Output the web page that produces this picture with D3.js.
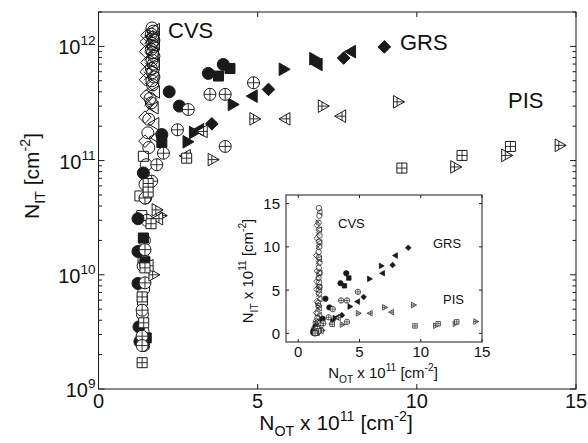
<!DOCTYPE html>
<html><head><meta charset="utf-8">
<script src="https://cdn.jsdelivr.net/npm/d3@7"></script>
<style>body{margin:0;background:#fff}svg{display:block}text{font-family:"Liberation Sans",Arial,sans-serif;fill:#111}</style>
</head><body><svg id="c" width="588" height="443"></svg>
<script>
// ---- data: x = N_OT (1e11 cm^-2), y = N_IT (1e11 cm^-2) ----
const cvsCircleX = [1.68,1.72,1.66,1.70,1.74,1.68,1.72,1.66,1.70,1.74,1.68,1.72,1.66,1.70,1.74,1.68,1.70,1.62,1.66,1.58,1.55,1.58,1.50,1.46,1.48,1.52,1.44,1.40,1.42,1.38,1.40,1.42];
const cvsCircleY = [14.5,13.6,12.8,12.0,11.3,10.6,10.0,9.4,8.8,8.2,7.6,7.0,6.4,5.9,5.4,5.0,4.6,3.5,3.2,2.3,1.75,1.3,0.92,0.62,0.47,0.30,0.20,0.12,0.075,0.045,0.032,0.024];
const cvsDiamondX = [1.52,1.50,1.48,1.52,1.50,1.48,1.50,1.46,1.46];
const cvsDiamondY = [12.5,11.0,9.0,7.2,6.0,5.1,3.7,2.4,1.48];
const cvsTimesX = [1.60,1.58,1.62,1.58,1.60,1.56,1.60,1.58,1.62];
const cvsTimesY = [12.9,11.5,10.0,8.2,6.6,5.5,4.4,3.3,2.9];
const cvsTriLeftX = [1.80,1.78,1.80,1.76,1.80,1.78,1.80,1.76,1.78,1.82];
const cvsTriLeftY = [14.0,12.0,10.5,8.6,7.0,5.3,4.0,2.9,2.1,1.6];
const cvsSquareX = [1.41,1.30,1.36,1.40,1.38,1.42];
const cvsSquareY = [1.09,0.49,0.33,0.14,0.06,0.025];

const grsCircleX = [3.92,3.45,2.22,2.54,1.99,1.41,1.24,1.24,1.24,1.27,1.30];
const grsCircleY = [6.95,5.8,4.0,3.0,1.69,0.78,0.31,0.16,0.084,0.035,0.026];
const grsSquareX = [4.13,3.77,1.99,1.41,1.46,1.50];
const grsSquareY = [6.4,5.5,1.44,0.21,0.13,0.028];
const grsTriRightX = [6.75,5.79,4.19,2.97,2.77];
const grsTriRightY = [7.8,6.3,3.1,1.76,1.46];
const grsTriLeftX = [7.96,6.91,4.87,3.19];
const grsTriLeftY = [9.0,6.95,3.67,1.86];
const grsDiamondX = [8.98,7.70,5.34,3.56];
const grsDiamondY = [9.9,7.9,4.2,2.1];
const grsCirclePlusX = [4.87,3.98,3.50,2.82,2.48,3.98,2.04,1.83,1.67,1.46,1.46,1.46,1.37,1.37,1.37];
const grsCirclePlusY = [4.8,3.8,3.8,2.8,1.86,1.33,1.16,0.92,0.66,0.47,0.166,0.085,0.049,0.029,0.024];

const pisTriRightX = [14.46,12.78,11.18,9.38,7.02,4.87,3.56,1.93,1.80,1.70];
const pisTriRightY = [1.36,1.11,0.88,3.27,3.0,2.32,1.02,0.33,0.37,0.10];
const pisTriLeftX = [7.65,5.90,3.30,2.77,1.90,1.60];
const pisTriLeftY = [2.45,2.32,1.8,1.1,0.31,0.12];
const pisSquareX = [12.94,11.42,9.53,2.77,1.56,1.56,1.65,1.46,1.37,1.42,1.37];
const pisSquareY = [1.33,1.11,0.86,1.05,0.63,0.53,0.28,0.115,0.064,0.038,0.017];

const xTicks = [0,5,10,15];
const yTickExps = [9,10,11,12];
const insetYTicks = [0,5,10,15];
const groupLabels = ["CVS","GRS","PIS"];

// series: [shape, style, xs, ys]
const series = [
  ["circle","open",cvsCircleX,cvsCircleY],
  ["diamond","open",cvsDiamondX,cvsDiamondY],
  ["times","open",cvsTimesX,cvsTimesY],
  ["triLeft","open",cvsTriLeftX,cvsTriLeftY],
  ["square","open",cvsSquareX,cvsSquareY],
  ["circle","filled",grsCircleX,grsCircleY],
  ["square","filled",grsSquareX,grsSquareY],
  ["triRight","filled",grsTriRightX,grsTriRightY],
  ["triLeft","filled",grsTriLeftX,grsTriLeftY],
  ["diamond","filled",grsDiamondX,grsDiamondY],
  ["circle","cross",grsCirclePlusX,grsCirclePlusY],
  ["triRight","cross",pisTriRightX,pisTriRightY],
  ["triLeft","cross",pisTriLeftX,pisTriLeftY],
  ["square","cross",pisSquareX,pisSquareY]
];

function shapePath(shape, k){
  const r=6*k, sq=5*k, dm=6.3*k, w=11*k, h=6.3*k, tx=4.3*k;
  switch(shape){
    case "circle": return `M${-r},0A${r},${r} 0 1,0 ${r},0A${r},${r} 0 1,0 ${-r},0Z`;
    case "square": return `M${-sq},${-sq}H${sq}V${sq}H${-sq}Z`;
    case "diamond": return `M0,${-dm}L${dm},0L0,${dm}L${-dm},0Z`;
    case "triRight": return `M${-w/3},${-h}L${2*w/3},0L${-w/3},${h}Z`;
    case "triLeft": return `M${w/3},${-h}L${-2*w/3},0L${w/3},${h}Z`;
    case "times": return `M${-tx},${-tx}L${tx},${tx}M${-tx},${tx}L${tx},${-tx}`;
  }
}
function crossPath(shape,k){
  const r=6*k, sq=5*k, w=11*k, h=6.3*k;
  switch(shape){
    case "circle": return `M${-r},0H${r}M0,${-r}V${r}`;
    case "square": return `M${-sq},0H${sq}M0,${-sq}V${sq}`;
    case "triRight": return `M${-w/3},0H${2*w/3}M0,${-2*h/3}V${2*h/3}`;
    case "triLeft": return `M${w/3},0H${-2*w/3}M0,${-2*h/3}V${2*h/3}`;
  }
  return "";
}

const svg = d3.select("#c");
const ink = "#1a1a1a";

function rich(sel, segs, size){
  let cur = 0;
  segs.forEach(([t,type])=>{
    let target = type==="sub" ? 0.3*size : type==="sup" ? -0.45*size : 0;
    sel.append("tspan").attr("dy", target-cur).attr("font-size", type==="n"?size:size*0.68).text(t);
    cur = target;
  });
}

function drawMarkers(g, xs, ysc, k, toY){
  series.forEach(([shape,style,X,Y])=>{
    X.forEach((xv,i)=>{
      const m = g.append("g").attr("transform",`translate(${xs(xv)},${ysc(toY(Y[i]))})`);
      const fill = style==="filled" ? ink : (style==="cross" ? "#fff" : "none");
      m.append("path").attr("d",shapePath(shape,k)).attr("fill",shape==="times"?"none":fill)
        .attr("stroke",ink).attr("stroke-width",Math.max(0.7,1.0*k));
      if(style==="cross") m.append("path").attr("d",crossPath(shape,k)).attr("fill","none").attr("stroke",ink).attr("stroke-width",Math.max(0.6,0.9*k));
    });
  });
}

// ---------- main plot ----------
const L=98.5,R=576,T=12,B=389;
const x = d3.scaleLinear().domain([0,15]).range([L,R]);
const y = d3.scaleLog().domain([1e9,2e12]).range([B,T]);
const main = svg.append("g");

drawMarkers(main.append("g"), x, y, 1, v=>v*1e11);

// frame
main.append("rect").attr("x",L).attr("y",T).attr("width",R-L).attr("height",B-T).attr("fill","none").attr("stroke",ink).attr("stroke-width",1);
// x ticks
xTicks.forEach(t=>{
  main.append("line").attr("x1",x(t)).attr("x2",x(t)).attr("y1",B).attr("y2",B-5).attr("stroke",ink);
  main.append("line").attr("x1",x(t)).attr("x2",x(t)).attr("y1",T).attr("y2",T+5).attr("stroke",ink);
  main.append("text").attr("x",x(t)).attr("y",B+19).attr("text-anchor","middle").attr("font-size",20).text(t);
});
// y ticks (log)
yTickExps.forEach(e=>{
  const v=Math.pow(10,e);
  main.append("line").attr("x1",L).attr("x2",L+6).attr("y1",y(v)).attr("y2",y(v)).attr("stroke",ink);
  main.append("line").attr("x1",R).attr("x2",R-6).attr("y1",y(v)).attr("y2",y(v)).attr("stroke",ink);
  const tx = main.append("text").attr("x",L-3).attr("y",y(v)+8).attr("text-anchor","end").attr("font-size",20);
  rich(tx,[["10","n"],[String(e),"sup"]],20);
  for(let m=2;m<=9;m++){
    const mv=m*v; if(mv>2e12) break;
    main.append("line").attr("x1",L).attr("x2",L+3.5).attr("y1",y(mv)).attr("y2",y(mv)).attr("stroke",ink);
    main.append("line").attr("x1",R).attr("x2",R-3.5).attr("y1",y(mv)).attr("y2",y(mv)).attr("stroke",ink);
  }
});
// axis labels
const xl = main.append("text").attr("x",336).attr("y",430).attr("text-anchor","middle").attr("font-size",21);
rich(xl,[["N","n"],["OT","sub"],[" x 10","n"],["11","sup"],["  [cm","n"],["-2","sup"],["]","n"]],21);
const yl = main.append("text").attr("transform","translate(39,176) rotate(-90)").attr("text-anchor","middle").attr("font-size",21);
rich(yl,[["N","n"],["IT","sub"],["  [cm","n"],["-2","sup"],["]","n"]],21);
// group labels
main.append("text").attr("x",168).attr("y",38).attr("font-size",22).text(groupLabels[0]);
main.append("text").attr("x",400).attr("y",50).attr("font-size",22).text(groupLabels[1]);
main.append("text").attr("x",508).attr("y",108).attr("font-size",22).text(groupLabels[2]);

// ---------- inset ----------
const iL=286,iR=482,iT=195,iB=342;
const ix = d3.scaleLinear().domain([-1,15]).range([iL,iR]);
const iy = d3.scaleLinear().domain([-1,16]).range([iB,iT]);
const ins = svg.append("g");
ins.append("rect").attr("x",iL).attr("y",iT).attr("width",iR-iL).attr("height",iB-iT).attr("fill","#fff");
drawMarkers(ins.append("g"), ix, iy, 0.45, v=>v);
ins.append("rect").attr("x",iL).attr("y",iT).attr("width",iR-iL).attr("height",iB-iT).attr("fill","none").attr("stroke",ink).attr("stroke-width",1);
xTicks.forEach(t=>{
  ins.append("line").attr("x1",ix(t)).attr("x2",ix(t)).attr("y1",iB).attr("y2",iB-3).attr("stroke",ink);
  ins.append("line").attr("x1",ix(t)).attr("x2",ix(t)).attr("y1",iT).attr("y2",iT+3).attr("stroke",ink);
  ins.append("text").attr("x",ix(t)).attr("y",iB+15).attr("text-anchor","middle").attr("font-size",15).text(t);
});
insetYTicks.forEach(t=>{
  ins.append("line").attr("x1",iL).attr("x2",iL+3).attr("y1",iy(t)).attr("y2",iy(t)).attr("stroke",ink);
  ins.append("line").attr("x1",iR).attr("x2",iR-3).attr("y1",iy(t)).attr("y2",iy(t)).attr("stroke",ink);
  ins.append("text").attr("x",iL-6).attr("y",iy(t)+5.5).attr("text-anchor","end").attr("font-size",15).text(t);
});
const ixl = ins.append("text").attr("x",383).attr("y",378).attr("text-anchor","middle").attr("font-size",15);
rich(ixl,[["N","n"],["OT","sub"],[" x 10","n"],["11","sup"],[" [cm","n"],["-2","sup"],["]","n"]],15);
const iyl = ins.append("text").attr("transform","translate(253,271) rotate(-90)").attr("text-anchor","middle").attr("font-size",15);
rich(iyl,[["N","n"],["IT","sub"],[" x 10","n"],["11","sup"],[" [cm","n"],["-2","sup"],["]","n"]],15);
ins.append("text").attr("x",338).attr("y",228).attr("font-size",13).text(groupLabels[0]);
ins.append("text").attr("x",433).attr("y",248).attr("font-size",13).text(groupLabels[1]);
ins.append("text").attr("x",443).attr("y",304).attr("font-size",13).text(groupLabels[2]);
</script></body></html>
